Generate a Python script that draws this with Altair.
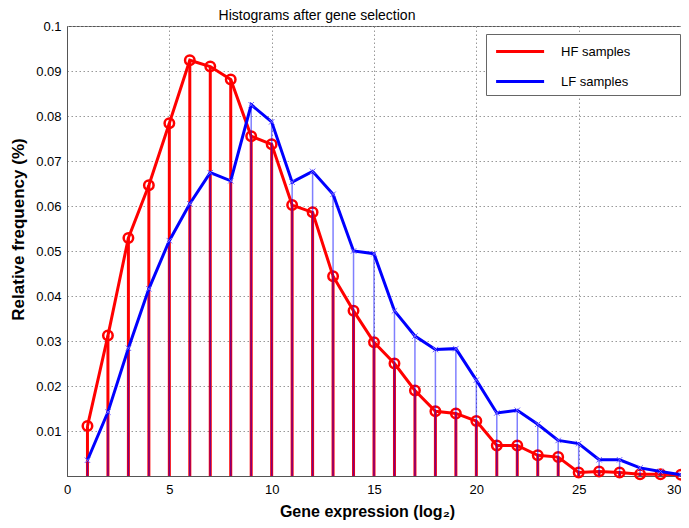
import altair as alt
import pandas as pd

# ---- data ----
bins = list(range(1, 31))
hf_samples = [0.0111, 0.0312, 0.0529, 0.0646, 0.0784, 0.0924, 0.0910, 0.0881, 0.0755, 0.0737,
              0.0602, 0.0586, 0.0444, 0.0367, 0.0297, 0.0250, 0.0190, 0.0144, 0.0139, 0.0122,
              0.0068, 0.0068, 0.0046, 0.0042, 0.0008, 0.0010, 0.0008, 0.0004, 0.0004, 0.0003]
lf_samples = [0.0035, 0.0142, 0.0284, 0.0416, 0.0523, 0.0605, 0.0674, 0.0656, 0.0825, 0.0787,
              0.0653, 0.0677, 0.0626, 0.0500, 0.0494, 0.0367, 0.0311, 0.0281, 0.0283, 0.0213,
              0.0140, 0.0146, 0.0115, 0.0079, 0.0072, 0.0036, 0.0036, 0.0018, 0.0010, 0.0003]
series_names = ["HF samples", "LF samples"]
series_colors = ["#ff0000", "#0000ff"]
x_ticks = [0, 5, 10, 15, 20, 25, 30]
y_ticks = [0.01, 0.02, 0.03, 0.04, 0.05, 0.06, 0.07, 0.08, 0.09, 0.1]

df = pd.concat([
    pd.DataFrame({"x": bins, "value": hf_samples, "series": series_names[0]}),
    pd.DataFrame({"x": bins, "value": lf_samples, "series": series_names[1]}),
])

FONT = "Liberation Sans"

x_enc = alt.X("x:Q", scale=alt.Scale(domain=[0, 30], nice=False),
              axis=alt.Axis(values=x_ticks, title="Gene expression (log\u2082)",
                            labelAlign=alt.condition("datum.value == 30", alt.value("right"),
                                                     alt.value("center")),
                            titleX=300, titleY=35, titleBaseline="middle",
                            titleFontSize=16, titleFontWeight="bold"))
y_enc = alt.Y("value:Q", scale=alt.Scale(domain=[0, 0.1], nice=False),
              axis=alt.Axis(values=y_ticks, format=".2~f", title="Relative frequency (%)",
                            titleX=-49, titleY=203, titleBaseline="middle", titleAlign="center",
                            titleAngle=-90, titleFontSize=17, titleFontWeight="bold"))

color_scale = alt.Scale(domain=series_names, range=series_colors)
pad_text = "\u00a0" * 12 + "\u200b"
legend = alt.Legend(orient="none", legendX=419, legendY=8, title=None,
                    padding=6, symbolType="M-0.74,0H4.06", symbolSize=400,
                    symbolStrokeWidth=3, labelOffset=46, rowPadding=11,
                    labelFontSize=13, labelFont=FONT, labelColor="#000",
                    strokeColor="#666", fillColor="white",
                    labelExpr="datum.label + '" + pad_text + "'")
color_enc = alt.Color("series:N", scale=color_scale, legend=legend)

base = alt.Chart(df)
hf = base.transform_filter(alt.datum.series == series_names[0])
lf = base.transform_filter(alt.datum.series == series_names[1])

hf_stems = hf.mark_rule(color="#ff0000", strokeWidth=3).encode(x=x_enc, y=y_enc, y2=alt.datum(0))
hf_line = hf.mark_line(strokeWidth=3).encode(x=x_enc, y=y_enc, color=color_enc)
hf_pts = hf.mark_point(shape="circle", filled=False, size=90, strokeWidth=2.5,
                       color="#ff0000", opacity=1).encode(x=x_enc, y=y_enc)
lf_stems = lf.mark_rule(color="#0000ff", strokeWidth=1.5, opacity=0.5).encode(
    x=x_enc, y=y_enc, y2=alt.datum(0))
lf_line = lf.mark_line(strokeWidth=3).encode(x=x_enc, y=y_enc, color=color_enc)
lf_pts = lf.mark_point(shape="M-1,-1L1,1M-1,1L1,-1", filled=False, size=30, strokeWidth=1,
                       color="#7060ff", opacity=1).encode(x=x_enc, y=y_enc)

chart = alt.layer(hf_stems, hf_line, hf_pts, lf_stems, lf_line, lf_pts).properties(
    width=614, height=450,
    title=alt.TitleParams("Histograms after gene selection", fontSize=14, font=FONT,
                          fontWeight="normal", color="#000", anchor="middle", dx=-57,
                          offset=0, dy=14, baseline="alphabetic"),
    autosize=alt.AutoSizeParams(type="none"),
    padding={"left": 59, "top": 18, "right": 0, "bottom": 44},
).configure_view(stroke="#555", strokeWidth=1).configure_axis(
    labelFont=FONT, titleFont=FONT, labelFontSize=13, labelColor="#000", titleColor="#000",
    ticks=False, domainColor="#555", gridColor="#999", gridDash=[1.5, 2.5], gridWidth=1,
    gridOpacity=1, labelPadding=7,
).configure_axisY(labelPadding=6)

chart.save("out.html", embed_options={"renderer": "svg", "actions": False})
